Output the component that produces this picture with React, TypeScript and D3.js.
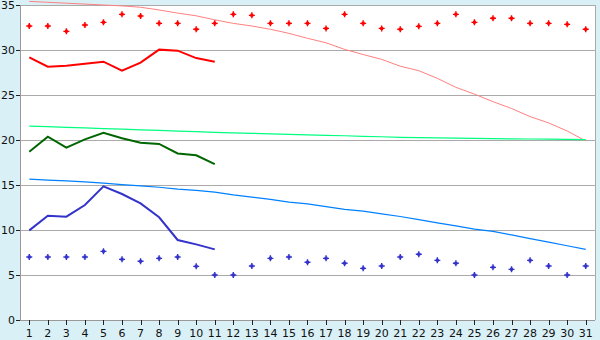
import React, { useEffect } from "react";
import * as d3 from "d3";

const days = d3.range(1, 32).map(String);
const yTicks = [0, 5, 10, 15, 20, 25, 30, 35];

const redPoints = [32.67, 32.67, 32.07, 32.78, 33.07, 33.96, 33.78, 32.96, 32.96, 32.3, 32.96, 33.96, 33.85, 32.96, 32.96, 32.96, 32.4, 33.96, 32.96, 32.4, 32.3, 32.63, 32.96, 33.96, 33.07, 33.52, 33.52, 32.96, 32.96, 32.85, 32.3];
const bluePoints = [7.0, 7.0, 7.0, 7.0, 7.63, 6.74, 6.52, 6.85, 7.0, 5.96, 5.0, 5.0, 6.0, 6.85, 7.0, 6.41, 6.85, 6.3, 5.74, 6.0, 7.0, 7.3, 6.63, 6.3, 5.0, 5.85, 5.63, 6.63, 6.0, 5.0, 6.0];

const redLine = [29.19, 28.15, 28.26, 28.48, 28.7, 27.7, 28.59, 30.04, 29.93, 29.1, 28.7];
const greenLine = [18.7, 20.37, 19.15, 20.07, 20.81, 20.19, 19.7, 19.56, 18.5, 18.3, 17.33];
const blueLine = [9.96, 11.59, 11.48, 12.78, 14.85, 14.0, 12.96, 11.41, 8.89, 8.4, 7.85];

const pinkLine = [35.4, 35.3, 35.2, 35.1, 35.0, 34.9, 34.75, 34.45, 34.1, 33.8, 33.35, 32.96, 32.67, 32.3, 31.85, 31.3, 30.8, 30.07, 29.5, 28.96, 28.2, 27.7, 26.85, 25.85, 25.1, 24.26, 23.5, 22.6, 21.9, 21.0, 19.9];
const lightGreenLine = [21.55, 21.48, 21.41, 21.34, 21.27, 21.2, 21.13, 21.06, 20.99, 20.92, 20.85, 20.8, 20.74, 20.69, 20.63, 20.58, 20.52, 20.47, 20.41, 20.36, 20.3, 20.27, 20.24, 20.21, 20.18, 20.15, 20.13, 20.11, 20.09, 20.07, 20.05];
const lightBlueLine = [15.65, 15.55, 15.45, 15.35, 15.2, 15.05, 14.9, 14.75, 14.55, 14.4, 14.2, 13.9, 13.65, 13.4, 13.1, 12.9, 12.6, 12.3, 12.1, 11.8, 11.5, 11.15, 10.8, 10.45, 10.1, 9.85, 9.45, 9.05, 8.65, 8.25, 7.85];

const W = 600, H = 340;
const L = 20, R = 595, T = 5, B = 320;

const x = d3.scaleBand<string>().domain(days).range([L, R]);
const cx = (i: number) => (x(days[i]) as number) + x.bandwidth() / 2;
const y = d3.scaleLinear().domain([0, 35]).range([B, T]);

const lineGen = d3.line<number>().x((_, i) => cx(i)).y((d) => y(d));

const marker = "M-0.7,-3 H0.7 V-1.5 H1.5 V-0.7 H3 V0.7 H1.5 V1.5 H0.7 V3 H-0.7 V1.5 H-1.5 V0.7 H-3 V-0.7 H-1.5 V-1.5 H-0.7 Z";

export default function App() {
  useEffect(() => {
    document.body.style.margin = "0";
  }, []);
  const font = "'DejaVu Sans', Verdana, sans-serif";
  return (
    <svg width={W} height={H} style={{ display: "block" }} fontFamily={font}>
      <rect x={0} y={0} width={W} height={H} fill="#d9f0f7" />
      <rect x={L} y={T} width={R - L} height={B - T} fill="#ffffff" />
      {yTicks.map((t) => (
        <g key={t}>
          <line x1={L} x2={R} y1={Math.round(y(t)) + 0.5} y2={Math.round(y(t)) + 0.5} stroke="#aaaaaa" strokeWidth={1} />
          <line x1={16} x2={L} y1={Math.round(y(t)) + 0.5} y2={Math.round(y(t)) + 0.5} stroke="#222" strokeWidth={1} />
          <text x={15} y={y(t) + 4} fontSize={11} textAnchor="end" fill="#111">{t}</text>
        </g>
      ))}
      <line x1={R + 0.5} x2={R + 0.5} y1={T} y2={B} stroke="#aaaaaa" />
      <line x1={L + 0.5} x2={L + 0.5} y1={T} y2={B} stroke="#999999" />
      <line x1={L} x2={R} y1={B + 0.5} y2={B + 0.5} stroke="#999999" />
      {days.map((d, i) => (
        <g key={d}>
          <line x1={Math.round(cx(i)) + 0.5} x2={Math.round(cx(i)) + 0.5} y1={B} y2={B + 5} stroke="#222" />
          <text x={cx(i)} y={337} fontSize={11} textAnchor="middle" fill="#111">{d}</text>
        </g>
      ))}
      <path d={lineGen(pinkLine) as string} fill="none" stroke="#ff8080" strokeWidth={1} />
      <path d={lineGen(lightGreenLine) as string} fill="none" stroke="#00ff80" strokeWidth={1.2} />
      <path d={lineGen(lightBlueLine) as string} fill="none" stroke="#0080ff" strokeWidth={1.2} />
      <path d={lineGen(redLine) as string} fill="none" stroke="#ff0000" strokeWidth={2} />
      <path d={lineGen(greenLine) as string} fill="none" stroke="#006600" strokeWidth={2} />
      <path d={lineGen(blueLine) as string} fill="none" stroke="#3333cc" strokeWidth={2} />
      {redPoints.map((v, i) => (
        <path key={"r" + i} d={marker} transform={`translate(${cx(i)},${y(v)})`} fill="#ff0000" />
      ))}
      {bluePoints.map((v, i) => (
        <path key={"b" + i} d={marker} transform={`translate(${cx(i)},${y(v)})`} fill="#3333cc" />
      ))}
    </svg>
  );
}
